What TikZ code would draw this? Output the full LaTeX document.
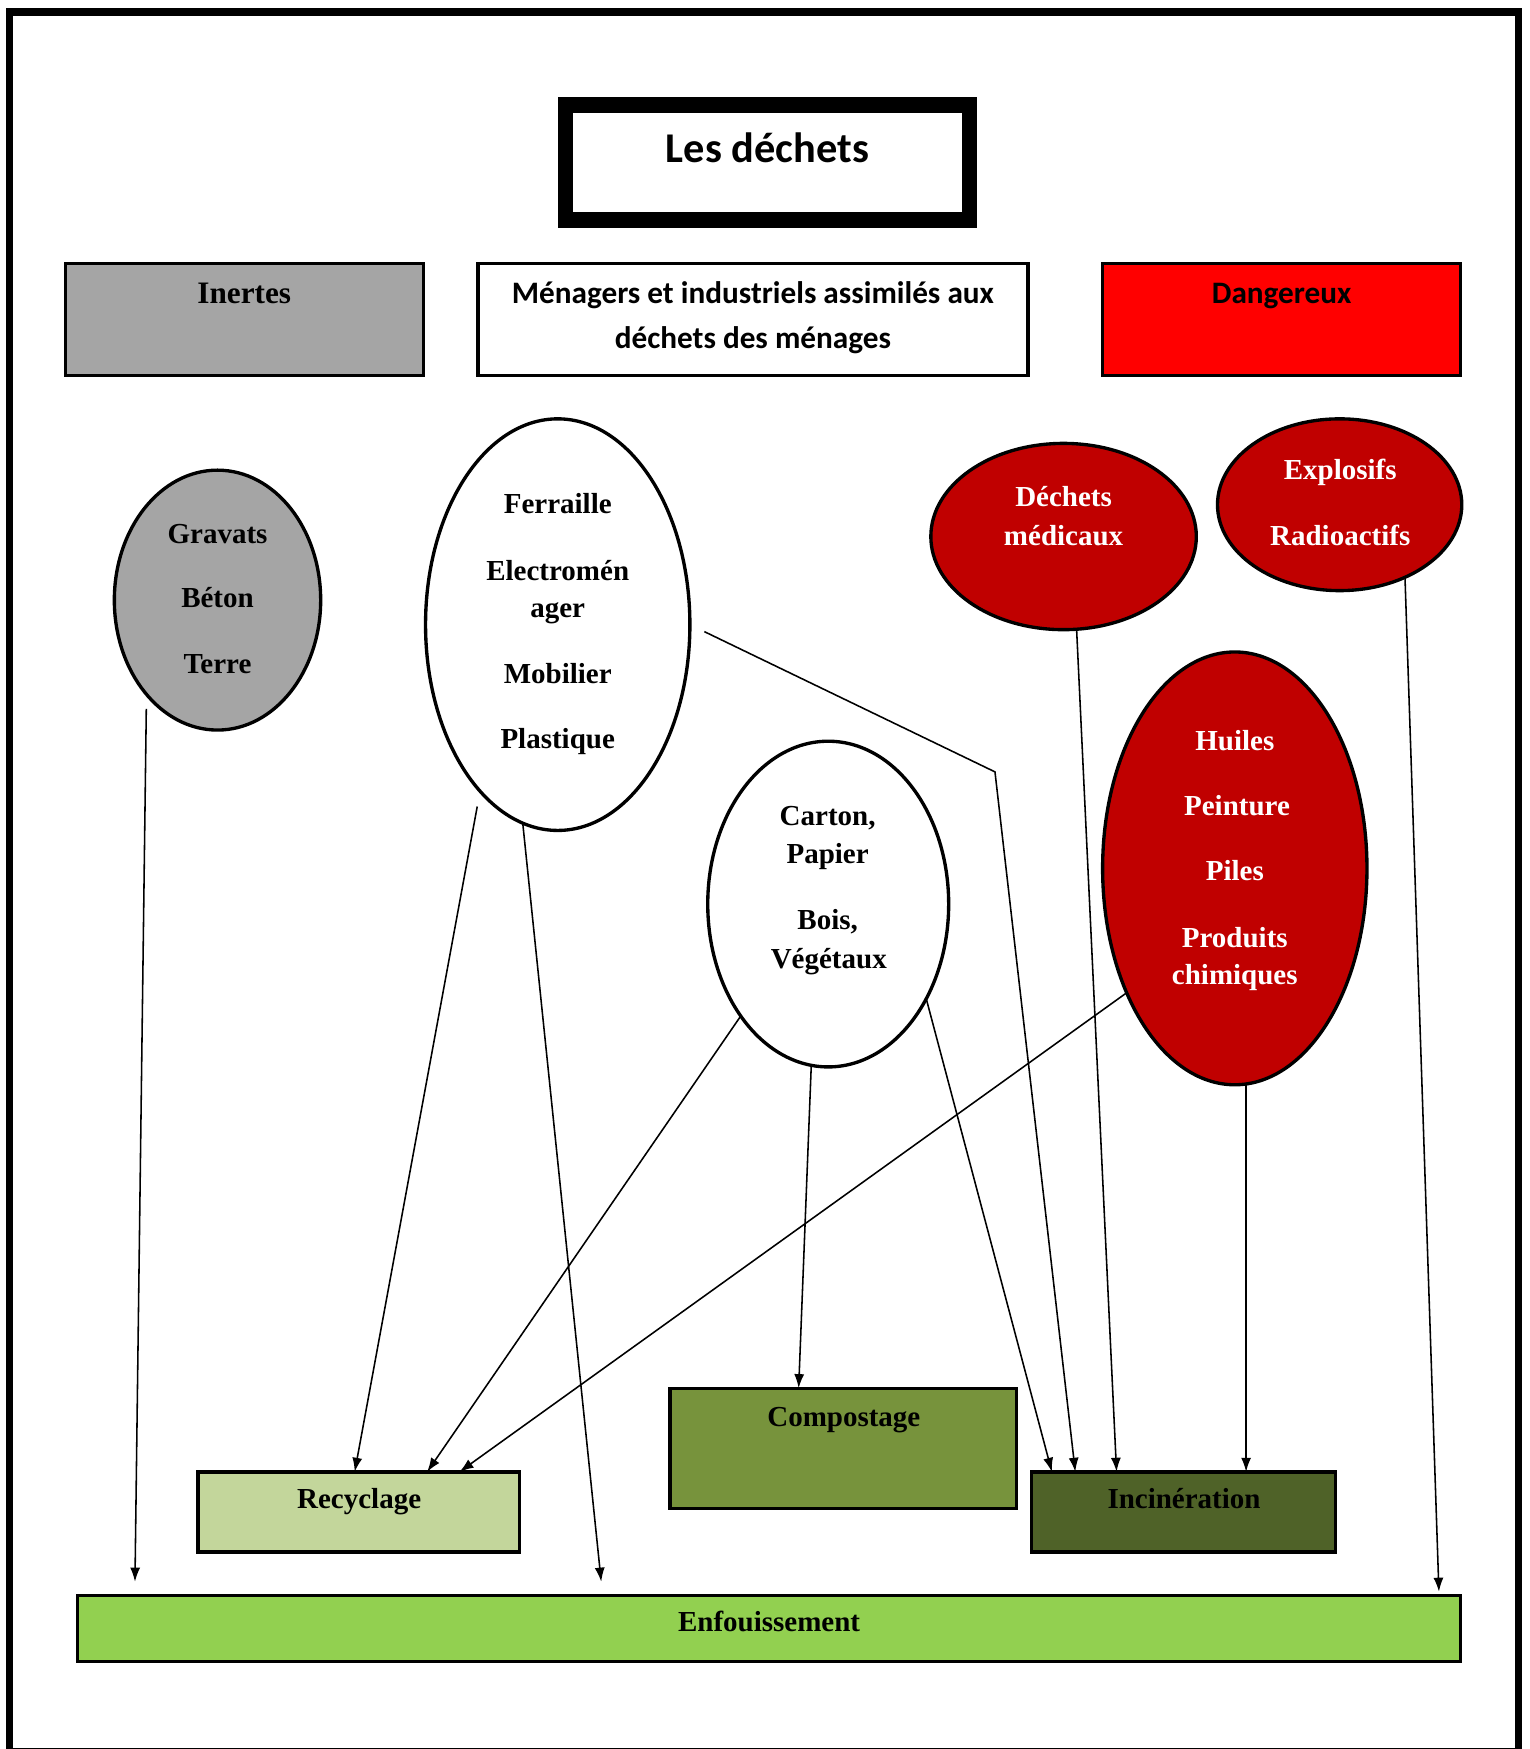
\documentclass[tikz,border=0pt]{standalone}
\usepackage{fontspec}
\setmainfont{Liberation Serif}
\newfontfamily\calibfont{Carlito}
\usetikzlibrary{shapes.geometric,arrows.meta}
\definecolor{grayfill}{HTML}{A5A5A5}
\definecolor{darkred}{HTML}{C00000}
\definecolor{recfill}{HTML}{C3D69B}
\definecolor{compfill}{HTML}{77933C}
\definecolor{incfill}{HTML}{4F6228}
\definecolor{enffill}{HTML}{92D050}
\begin{document}
\begin{tikzpicture}[x=0.5pt,y=-0.5pt,
  box/.style={draw,line width=1.5pt,rectangle,inner sep=0pt,outer sep=0pt},
  ell/.style={draw,line width=1.5pt,ellipse,inner sep=0pt,outer sep=0pt},
  txt/.style={font=\bfseries\fontsize{13}{15}\selectfont,anchor=base,inner sep=0pt},
  wtxt/.style={txt,text=white},
  ctxt/.style={font=\calibfont\bfseries\fontsize{14}{16}\selectfont,anchor=base,inner sep=0pt},
  arr/.style={line width=0.7pt,-{Latex[length=6.3pt,width=4.5pt]}},
]
\useasboundingbox (0,0) rectangle (1371,1568);
\fill[white] (0,0) rectangle (1371,1568);
\draw[line width=3.2pt] (8.5,10.8) rectangle (1361,1570);

% title
\node[box,line width=7pt,minimum width=362*0.5pt,minimum height=103*0.5pt] (title) at (688,145.5) {};
\node[ctxt,font=\calibfont\bfseries\fontsize{19}{22}\selectfont] (titlet) at (688,146) {Les déchets};

% categories
\node[box,fill=grayfill,minimum width=321*0.5pt,minimum height=100*0.5pt] (inertes) at (219,286.5) {};
\node[txt,font=\bfseries\fontsize{14}{16}\selectfont] (inertest) at (219,272) {Inertes};
\node[box,fill=white,minimum width=493*0.5pt,minimum height=100*0.5pt] (menag) at (675,286.5) {};
\node[ctxt] (menagt1) at (675,272) {Ménagers et industriels assimilés aux};
\node[ctxt] (menagt2) at (675,312) {déchets des ménages};
\node[box,fill=red,minimum width=321*0.5pt,minimum height=100*0.5pt] (dang) at (1149,286.5) {};
\node[ctxt] (dangt) at (1149,272) {Dangereux};

% ellipses
\node[ell,fill=grayfill,minimum width=185*0.5pt,minimum height=233*0.5pt] (grav) at (195,538) {};
\node[txt] (g1) at (195,487) {Gravats};
\node[txt] (g2) at (195,545) {Béton};
\node[txt] (g3) at (195,604) {Terre};

\node[ell,fill=white,minimum width=237*0.5pt,minimum height=369*0.5pt] (ferr) at (500,560) {};
\node[txt] (f1) at (500,460) {Ferraille};
\node[txt] (f2) at (500,520) {Electromén};
\node[txt] (f3) at (500,554) {ager};
\node[txt] (f4) at (500,613) {Mobilier};
\node[txt] (f5) at (500,671) {Plastique};

\node[ell,fill=white,minimum width=216*0.5pt,minimum height=292*0.5pt] (cart) at (742.5,810.5) {};
\node[txt] (c1) at (742,740) {Carton,};
\node[txt] (c2) at (742,774) {Papier};
\node[txt] (c3) at (742,833) {Bois,};
\node[txt] (c4) at (743,868) {Végétaux};

\node[ell,fill=darkred,minimum width=238*0.5pt,minimum height=167*0.5pt] (med) at (953.5,481) {};
\node[wtxt] (m1) at (953.5,454) {Déchets};
\node[wtxt] (m2) at (953.5,489) {médicaux};

\node[ell,fill=darkred,minimum width=219*0.5pt,minimum height=154*0.5pt] (expl) at (1201,452.5) {};
\node[wtxt] (x1) at (1201.5,430) {Explosifs};
\node[wtxt] (x2) at (1201.5,489) {Radioactifs};

\node[ell,fill=darkred,minimum width=237*0.5pt,minimum height=388*0.5pt] (huil) at (1107,778.5) {};
\node[wtxt] (h1) at (1107,673) {Huiles};
\node[wtxt] (h2) at (1109,731) {Peinture};
\node[wtxt] (h3) at (1107,789) {Piles};
\node[wtxt] (h4) at (1107,849) {Produits};
\node[wtxt] (h5) at (1107,883) {chimiques};

% treatment boxes
\node[box,fill=recfill,minimum width=288*0.5pt,minimum height=72*0.5pt] (rec) at (321.5,1355.5) {};
\node[txt] (rect) at (322,1352) {Recyclage};
\node[box,fill=compfill,minimum width=311*0.5pt,minimum height=108*0.5pt] (comp) at (756,1298.5) {};
\node[txt] (compt) at (756.5,1279) {Compostage};
\node[box,fill=incfill,minimum width=273*0.5pt,minimum height=72*0.5pt] (inc) at (1061,1355.5) {};
\node[txt] (inct) at (1061.5,1352) {Incinération};
\node[box,fill=enffill,minimum width=1240*0.5pt,minimum height=59*0.5pt] (enf) at (689.5,1460) {};
\node[txt] (enft) at (689.5,1463) {Enfouissement};

% free ends
\coordinate (e1) at (121,1418);
\coordinate (e2) at (539,1418);
\coordinate (e3) at (1290,1427);
\coordinate (bend) at (892,692);

% connectors
\draw[arr,shorten <=6.5pt] (grav.233) -- (e1);
\draw[arr,shorten <=7pt] (ferr.245) -- (rec.north -| 318,0);
\draw[arr] (ferr.260) -- (e2);
\draw[arr,shorten <=7.2pt] (ferr.east) -- (bend) -- (inc.north -| 964,0);
\draw[arr] (cart.232) -- (rec.north -| 383,0);
\draw[arr] (cart.264) -- (comp.north -| 716,0);
\draw[arr] (cart.-44) -- (inc.north -| 943,0);
\draw[arr] (huil.229) -- (rec.north -| 412,0);
\draw[arr] (med.-82) -- (inc.north -| 1001,0);
\draw[arr] (huil.-87) -- (huil.-87 |- inc.north);
\draw[arr] (expl.-48) -- (e3);
\end{tikzpicture}
\end{document}
